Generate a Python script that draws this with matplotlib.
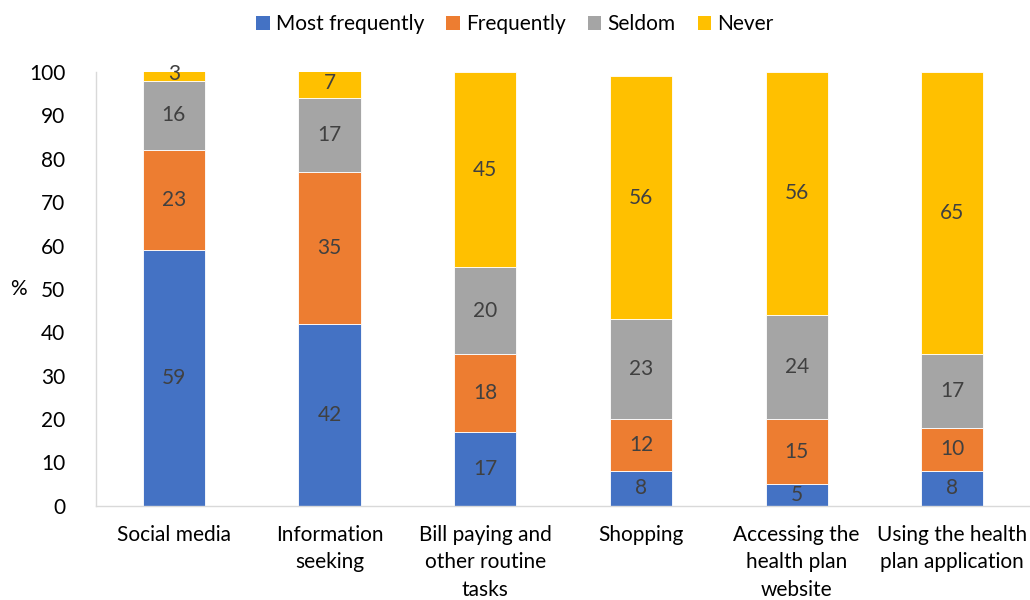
import matplotlib
matplotlib.use("Agg")
import matplotlib.pyplot as plt
import numpy as np

categories = ["Social media", "Information\nseeking", "Bill paying and\nother routine\ntasks",
              "Shopping", "Accessing the\nhealth plan\nwebsite", "Using the health\nplan application"]
series_names = ["Most frequently", "Frequently", "Seldom", "Never"]
most_frequently = [59, 42, 17, 8, 5, 8]
frequently = [23, 35, 18, 12, 15, 10]
seldom = [16, 17, 20, 23, 24, 17]
never = [3, 7, 45, 56, 56, 65]
colors = ["#4472C4", "#ED7D31", "#A5A5A5", "#FFC000"]
y_ticks = list(range(0, 101, 10))

plt.rcParams['font.family'] = ['Lato', 'DejaVu Sans']
FS = 15

fig = plt.figure(figsize=(10.3, 6), dpi=100)
ax = fig.add_axes([0.0932, 0.157, 0.907, 0.723])

x = np.arange(len(categories))
bottom = np.zeros(len(categories))
for name, vals, col in zip(series_names, [most_frequently, frequently, seldom, never], colors):
    vals = np.array(vals, dtype=float)
    ax.bar(x, vals, 0.4, bottom=bottom, color=col, label=name,
           edgecolor="white", linewidth=0.6, zorder=2)
    for xi, b, v in zip(x, bottom, vals):
        ax.text(xi, b + v / 2, f"{int(v)}", ha="center", va="center",
                fontsize=FS, color="#404040", zorder=3)
    bottom += vals

ax.set_xlim(-0.5, len(categories) - 0.5)
ax.set_ylim(0, 100)
ax.set_yticks(y_ticks)
ax.set_xticks(x)
ax.set_xticklabels(categories, fontsize=FS, color="#000000", linespacing=1.45, va="top")
ax.tick_params(axis="y", labelsize=FS, length=0, pad=22, colors="#000000")
ax.tick_params(axis="x", length=0, pad=14)
for s in ["top", "right"]:
    ax.spines[s].set_visible(False)
for s in ["left", "bottom"]:
    ax.spines[s].set_color("#D9D9D9")
    ax.spines[s].set_linewidth(1.0)
ax.set_ylabel("%", fontsize=FS, rotation=0, va="center")
ax.yaxis.set_label_coords(-0.083, 0.5)

leg = fig.legend(loc="upper center", bbox_to_anchor=(0.5, 1.008), ncol=4, frameon=False,
                 fontsize=FS, handlelength=0.65, handleheight=0.65, handletextpad=0.3,
                 columnspacing=1.05)
for h in leg.legend_handles:
    h.set_edgecolor("none")

fig.savefig("out.png", dpi=100)
